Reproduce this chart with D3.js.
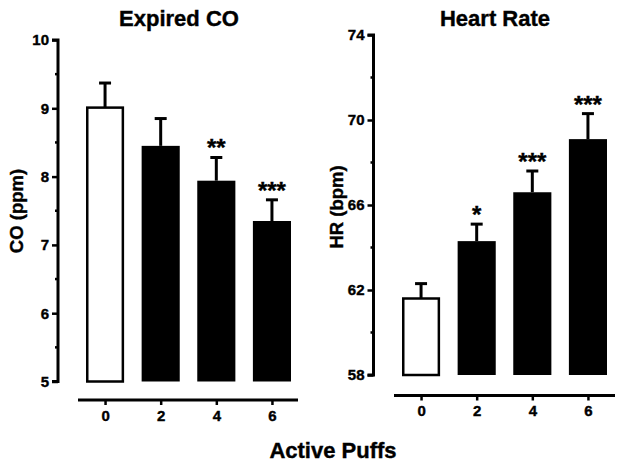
<!DOCTYPE html>
<html><head><meta charset="utf-8">
<script src="https://cdn.jsdelivr.net/npm/d3@7"></script>
<style>body{margin:0;background:#fff}svg{display:block}text{font-family:"Liberation Sans",Arial,sans-serif;font-weight:bold;fill:#000;stroke:#000;stroke-width:0.4px}</style>
</head><body>
<svg id="c" width="624" height="466"></svg>
<script>
const categories = ["0","2","4","6"];
const coMean = [9.01, 8.45, 7.94, 7.35];
const coErr  = [9.37, 8.85, 8.28, 7.66];
const coSig  = ["", "", "**", "***"];
const coTicks = [5,6,7,8,9,10];
const coMinor = [5.5,6.5,7.5,8.5,9.5];
const hrMean = [61.6, 64.3, 66.6, 69.1];
const hrErr  = [62.3, 65.1, 67.6, 70.3];
const hrSig  = ["", "*", "***", "***"];
const hrTicks = [58,62,66,70,74];
const hrMinor = [60,64,68,72];

const svg = d3.select("#c");

function panel(o){
  const g = svg.append("g");
  const x = d3.scaleBand().domain(categories).range(o.xr).paddingInner(0.315).paddingOuter(0);
  const y = d3.scaleLinear().domain(o.dom).range(o.yr);
  g.selectAll("rect.bar").data(o.mean).join("rect")
    .attr("x",(d,i)=>x(categories[i])+ (i===0?1.25:0))
    .attr("width",(d,i)=>x.bandwidth() - (i===0?2.5:0))
    .attr("y",d=>y(d))
    .attr("height",d=>y(o.dom[0])-y(d))
    .attr("fill",(d,i)=>i===0?"#fff":"#000")
    .attr("stroke","#000").attr("stroke-width",(d,i)=>i===0?2.5:0);
  o.mean.forEach((m,i)=>{
    const cx = x(categories[i]) + x.bandwidth()/2;
    g.append("line").attr("x1",cx).attr("x2",cx).attr("y1",y(m)).attr("y2",y(o.err[i]))
      .attr("stroke","#000").attr("stroke-width",3);
    g.append("line").attr("x1",cx-6).attr("x2",cx+6).attr("y1",y(o.err[i])).attr("y2",y(o.err[i]))
      .attr("stroke","#000").attr("stroke-width",3);
    if(o.sig[i]) g.append("text").attr("x",cx).attr("y",y(o.err[i])-1)
      .attr("text-anchor","middle").attr("font-size",24).text(o.sig[i]);
  });
  const ya = g.append("g").attr("transform",`translate(${o.ax},0)`)
    .call(d3.axisLeft(y).tickValues(o.ticks).tickSize(6).tickPadding(3).tickFormat(d3.format("d")));
  ya.select(".domain").attr("stroke-width",3).attr("d",`M-6,${y(o.dom[0])}H0V${y(o.dom[1])}H-6`);
  ya.selectAll(".tick line").attr("stroke-width",2.5);
  ya.selectAll(".tick text").attr("font-size",15).attr("font-weight","bold").attr("font-family","Liberation Sans, Arial, sans-serif");
  g.append("g").selectAll("line").data(o.minor).join("line")
    .attr("x1",o.ax-3).attr("x2",o.ax).attr("y1",d=>y(d)).attr("y2",d=>y(d))
    .attr("stroke","#000").attr("stroke-width",2.5);
  const xs = d3.scalePoint().domain(categories).range([x(categories[0])+x.bandwidth()/2, x(categories[3])+x.bandwidth()/2]);
  const xa = g.append("g").attr("transform",`translate(0,${o.xy})`)
    .call(d3.axisBottom(xs).tickSize(5).tickPadding(5).tickSizeOuter(0));
  xa.select(".domain").attr("stroke-width",3).attr("d",`M${o.xl[0]},0H${o.xl[1]}`);
  xa.selectAll(".tick line").attr("stroke-width",2.5);
  xa.selectAll(".tick text").attr("font-size",15).attr("font-weight","bold").attr("font-family","Liberation Sans, Arial, sans-serif");
  g.append("text").attr("x",o.tx).attr("y",26).attr("text-anchor","middle").attr("font-size",22).text(o.title);
  g.append("text").attr("transform",`translate(${o.lx},${o.ly}) rotate(-90)`).attr("text-anchor","middle")
    .attr("font-size",18.5).text(o.ylabel);
}

panel({xr:[86,291], dom:[5,10], yr:[381.5,40], mean:coMean, err:coErr, sig:coSig, ticks:coTicks, minor:coMinor,
  ax:58, xy:400, xl:[78,298], title:"Expired CO", tx:179, ylabel:"CO (ppm)", lx:23, ly:211});
panel({xr:[402,607], dom:[58,74], yr:[375,35], mean:hrMean, err:hrErr, sig:hrSig, ticks:hrTicks, minor:hrMinor,
  ax:373.5, xy:395.5, xl:[394,615], title:"Heart Rate", tx:495, ylabel:"HR (bpm)", lx:343, ly:207});
svg.append("text").attr("x",333).attr("y",458).attr("text-anchor","middle").attr("font-size",22).text("Active Puffs");
</script>
</body></html>
